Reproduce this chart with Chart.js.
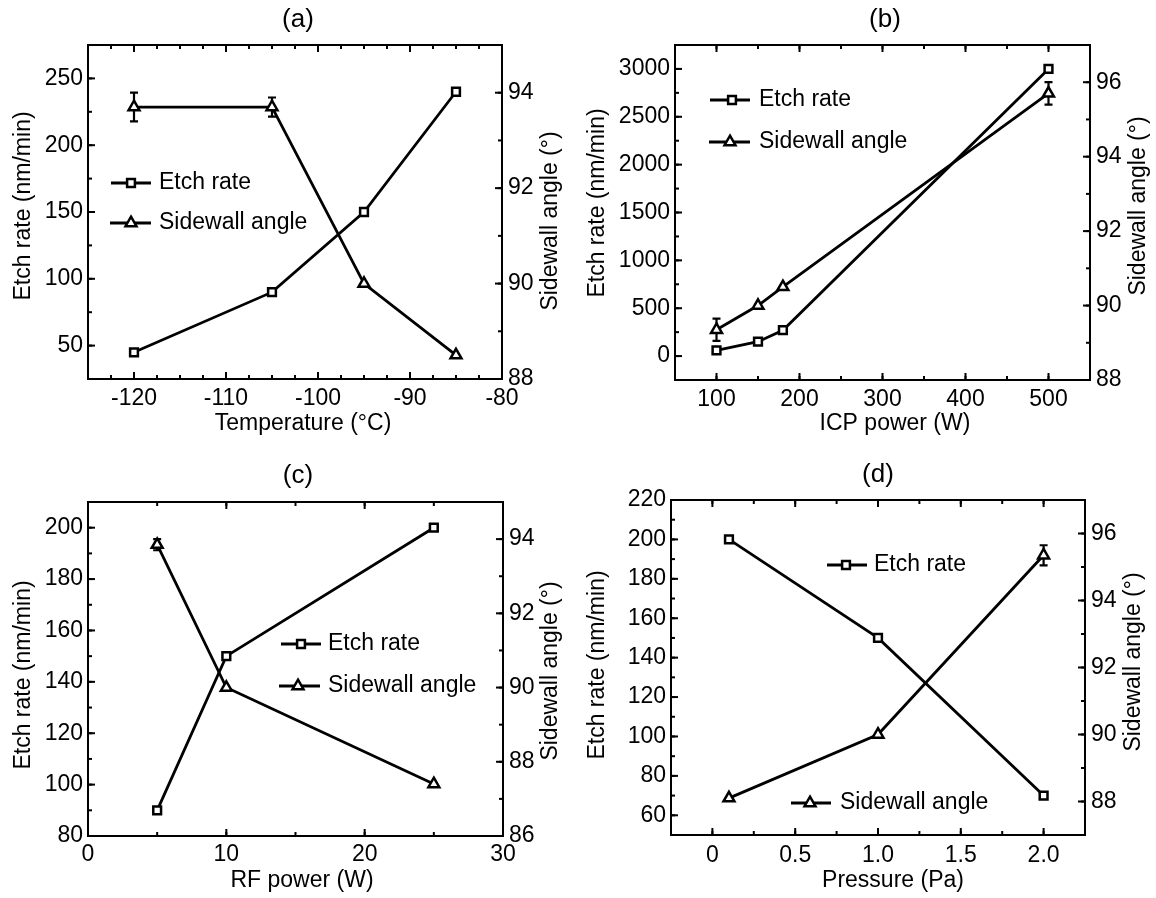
<!DOCTYPE html>
<html>
<head>
<meta charset="utf-8">
<script src="https://cdn.jsdelivr.net/npm/chart.js@4.4.0/dist/chart.umd.min.js"></script>
<style>
  html, body { margin: 0; padding: 0; background: #fff; }
  #fig { position: relative; width: 1156px; height: 898px; }
  canvas { position: absolute; }
</style>
</head>
<body>
<div id="fig">
  <canvas id="panelA" width="578" height="445" style="left:0;top:0"></canvas>
  <canvas id="panelB" width="578" height="445" style="left:578px;top:0"></canvas>
  <canvas id="panelC" width="578" height="453" style="left:0;top:445px"></canvas>
  <canvas id="panelD" width="578" height="453" style="left:578px;top:445px"></canvas>
</div>
<script>
const FONT = "'Liberation Sans', Arial, sans-serif";

const seriesLabels = ["Etch rate", "Sidewall angle"];
const etchTitle = "Etch rate (nm/min)";
const angleTitle = "Sidewall angle (°)";

// (a) temperature sweep
const tempC = [-120, -105, -95, -85];
const tempEtch = [45, 90, 150, 240];
const tempAngle = [93.7, 93.7, 90.0, 88.5];
const tempAngleErr = [0.3, 0.2, 0, 0];
const tempTicksX = [-120, -110, -100, -90, -80];
const tempTicksEtch = [50, 100, 150, 200, 250];
const tempTicksAngle = [88, 90, 92, 94];

// (b) ICP power sweep
const icpW = [100, 150, 180, 500];
const icpEtch = [60, 150, 270, 3000];
const icpAngle = [89.35, 90.0, 90.5, 95.7];
const icpAngleErr = [0.3, 0, 0, 0.3];
const icpTicksX = [100, 200, 300, 400, 500];
const icpTicksEtch = [0, 500, 1000, 1500, 2000, 2500, 3000];
const icpTicksAngle = [88, 90, 92, 94, 96];

// (c) RF power sweep
const rfW = [5, 10, 25];
const rfEtch = [90, 150, 200];
const rfAngle = [93.85, 90.0, 87.4];
const rfAngleErr = [0.15, 0, 0];
const rfTicksX = [0, 10, 20, 30];
const rfTicksEtch = [80, 100, 120, 140, 160, 180, 200];
const rfTicksAngle = [86, 88, 90, 92, 94];

// (d) pressure sweep
const pressPa = [0.1, 1.0, 2.0];
const pressEtch = [200, 150, 70];
const pressAngle = [88.1, 90.0, 95.35];
const pressAngleErr = [0, 0, 0.3];
const pressTicksX = [0, 0.5, 1.0, 1.5, 2.0];
const pressTicksEtch = [60, 80, 100, 120, 140, 160, 180, 200, 220];
const pressTicksAngle = [88, 90, 92, 94, 96];

function drawMarker(ctx, style, x, y) {
  ctx.save();
  ctx.fillStyle = "#fff";
  ctx.strokeStyle = "#000";
  ctx.lineWidth = 2.5;
  ctx.beginPath();
  if (style === "rect") {
    const s = 3.9;
    ctx.rect(x - s, y - s, 2 * s, 2 * s);
  } else {
    const r = 6.3;
    ctx.moveTo(x, y - r);
    ctx.lineTo(x + r * 0.866, y + r / 2);
    ctx.lineTo(x - r * 0.866, y + r / 2);
    ctx.closePath();
  }
  ctx.fill();
  ctx.stroke();
  ctx.restore();
}

// inward major + minor tick marks on the given edges
function drawTickMarks(ctx, scale, minorStep, edges, a) {
  const marks = scale.ticks.map(t => [t.value, 7]);
  const k0 = Math.ceil(scale.min / minorStep - 1e-9);
  const k1 = Math.floor(scale.max / minorStep + 1e-9);
  for (let k = k0; k <= k1; k++) marks.push([k * minorStep, 4]);
  marks.forEach(([v, len]) => {
    const p = scale.getPixelForValue(v);
    edges.forEach(edge => {
      ctx.beginPath();
      if (edge === "bottom") { ctx.moveTo(p, a.bottom); ctx.lineTo(p, a.bottom - len); }
      if (edge === "top") { ctx.moveTo(p, a.top); ctx.lineTo(p, a.top + len); }
      if (edge === "left") { ctx.moveTo(a.left, p); ctx.lineTo(a.left + len, p); }
      if (edge === "right") { ctx.moveTo(a.right, p); ctx.lineTo(a.right - len, p); }
      ctx.stroke();
    });
  });
}

function drawText(ctx, text, x, y, size, rotate) {
  ctx.save();
  ctx.translate(x, y);
  if (rotate) ctx.rotate(-Math.PI / 2);
  ctx.fillStyle = "#000";
  ctx.font = size + "px " + FONT;
  ctx.textAlign = "center";
  ctx.textBaseline = "middle";
  ctx.fillText(text, 0, 0);
  ctx.restore();
}

const panelPlugin = {
  id: "panel",
  beforeDatasetsDraw(chart, args, o) {
    // error bars on the sidewall angle
    const ctx = chart.ctx;
    const pts = chart.data.datasets[1].data;
    const xs = chart.scales.x, ys = chart.scales.yR;
    ctx.save();
    ctx.strokeStyle = "#000";
    ctx.lineWidth = 2.2;
    o.err.forEach((e, i) => {
      if (!e) return;
      const x = xs.getPixelForValue(pts[i].x);
      const y0 = ys.getPixelForValue(pts[i].y - e);
      const y1 = ys.getPixelForValue(pts[i].y + e);
      ctx.beginPath();
      ctx.moveTo(x, y0); ctx.lineTo(x, y1);
      ctx.moveTo(x - 4, y0); ctx.lineTo(x + 4, y0);
      ctx.moveTo(x - 4, y1); ctx.lineTo(x + 4, y1);
      ctx.stroke();
    });
    ctx.restore();
  },
  afterDraw(chart, args, o) {
    const { ctx, chartArea: a, scales } = chart;
    ctx.save();
    ctx.strokeStyle = "#000";
    ctx.lineWidth = 2;
    ctx.strokeRect(a.left, a.top, a.right - a.left, a.bottom - a.top);
    drawTickMarks(ctx, scales.x, o.minor.x, ["bottom", "top"], a);
    drawTickMarks(ctx, scales.yL, o.minor.yL, ["left"], a);
    drawTickMarks(ctx, scales.yR, o.minor.yR, ["right"], a);

    // legend placed inside the plot
    o.legend.forEach(item => {
      ctx.lineWidth = 2.8;
      ctx.beginPath();
      ctx.moveTo(item.x0, item.y);
      ctx.lineTo(item.x1, item.y);
      ctx.stroke();
      drawMarker(ctx, item.style, item.xm, item.y);
      ctx.fillStyle = "#000";
      ctx.font = "23px " + FONT;
      ctx.textAlign = "left";
      ctx.textBaseline = "middle";
      ctx.fillText(chart.data.datasets[item.ds].label, item.xt, item.y);
    });
    ctx.restore();

    // panel title and axis titles
    drawText(ctx, o.title, o.at.title[0], o.at.title[1], 26, false);
    drawText(ctx, o.xTitle, o.at.x[0], o.at.x[1], 23, false);
    drawText(ctx, etchTitle, o.at.yL[0], o.at.yL[1], 23, true);
    drawText(ctx, angleTitle, o.at.yR[0], o.at.yR[1], 23, true);
  }
};

function linAxis(position, min, max, tickVals, fitSize, tickPad, fmt) {
  return {
    type: "linear",
    position: position,
    min: min,
    max: max,
    grid: { display: false, drawTicks: false },
    border: { display: false },
    title: { display: false },
    afterBuildTicks: s => { s.ticks = tickVals.map(v => ({ value: v })); },
    afterFit: s => {
      if (s.isHorizontal()) s.height = fitSize;
      else s.width = fitSize;
    },
    ticks: {
      autoSkip: false,
      maxRotation: 0,
      padding: tickPad,
      color: "#000",
      font: { family: FONT, size: 23 },
      callback: fmt || (v => String(v))
    }
  };
}

function makePanel(id, p) {
  const canvas = document.getElementById(id);
  const W = canvas.width, H = canvas.height;
  new Chart(canvas, {
    type: "line",
    data: {
      datasets: [
        {
          label: seriesLabels[0],
          data: p.x.map((x, i) => ({ x: x, y: p.etch[i] })),
          yAxisID: "yL",
          pointStyle: "rect",
          pointRadius: 5.5
        },
        {
          label: seriesLabels[1],
          data: p.x.map((x, i) => ({ x: x, y: p.angle[i] })),
          yAxisID: "yR",
          pointStyle: "triangle",
          pointRadius: 6.3
        }
      ]
    },
    options: {
      responsive: false,
      animation: false,
      events: [],
      layout: { padding: { top: p.box.T, left: 0, right: 0, bottom: 0 } },
      elements: {
        line: { borderColor: "#000", borderWidth: 2.8, tension: 0 },
        point: { backgroundColor: "#fff", borderColor: "#000", borderWidth: 2.5 }
      },
      scales: {
        x: linAxis("bottom", p.xRange[0], p.xRange[1], p.ticksX, H - p.box.B, p.xTick, p.xFmt),
        yL: linAxis("left", p.etchRange[0], p.etchRange[1], p.ticksEtch, p.box.L, 5),
        yR: linAxis("right", p.angleRange[0], p.angleRange[1], p.ticksAngle, W - p.box.R, 6)
      },
      plugins: {
        legend: { display: false },
        tooltip: { enabled: false },
        panel: {
          title: p.title,
          xTitle: p.xTitle,
          at: p.at,
          err: p.err,
          minor: p.minor,
          legend: p.legend
        }
      }
    },
    plugins: [panelPlugin]
  });
}

makePanel("panelA", {
  title: "(a)",
  x: tempC, etch: tempEtch, angle: tempAngle, err: tempAngleErr,
  xRange: [-125, -80], etchRange: [25, 275], angleRange: [88, 95],
  ticksX: tempTicksX, ticksEtch: tempTicksEtch, ticksAngle: tempTicksAngle,
  minor: { x: 2.5, yL: 25, yR: 1 },
  xTitle: "Temperature (°C)", xTick: 6,
  box: { L: 88, R: 502, T: 45, B: 379 },
  at: { title: [298, 20], x: [303, 424], yL: [24, 206], yR: [551, 221] },
  legend: [
    { ds: 0, style: "rect", y: 183, x0: 111, x1: 151, xm: 131, xt: 159 },
    { ds: 1, style: "triangle", y: 223, x0: 110, x1: 151, xm: 131, xt: 159 }
  ]
});

makePanel("panelB", {
  title: "(b)",
  x: icpW, etch: icpEtch, angle: icpAngle, err: icpAngleErr,
  xRange: [50, 550], etchRange: [-250, 3250], angleRange: [88, 97],
  ticksX: icpTicksX, ticksEtch: icpTicksEtch, ticksAngle: icpTicksAngle,
  minor: { x: 50, yL: 250, yR: 1 },
  xTitle: "ICP power (W)", xTick: 6,
  box: { L: 97, R: 512, T: 45, B: 380 },
  at: { title: [307, 20], x: [317, 424], yL: [20, 203], yR: [561, 206] },
  legend: [
    { ds: 0, style: "rect", y: 100, x0: 132, x1: 172, xm: 154, xt: 181 },
    { ds: 1, style: "triangle", y: 142, x0: 131, x1: 172, xm: 152, xt: 181 }
  ]
});

makePanel("panelC", {
  title: "(c)",
  x: rfW, etch: rfEtch, angle: rfAngle, err: rfAngleErr,
  xRange: [0, 30], etchRange: [80, 210], angleRange: [86, 95],
  ticksX: rfTicksX, ticksEtch: rfTicksEtch, ticksAngle: rfTicksAngle,
  minor: { x: 5, yL: 10, yR: 1 },
  xTitle: "RF power (W)", xTick: 5,
  box: { L: 88, R: 503, T: 57, B: 391 },
  at: { title: [298, 31], x: [302, 436], yL: [24, 230], yR: [551, 226] },
  legend: [
    { ds: 0, style: "rect", y: 199, x0: 281, x1: 321, xm: 301, xt: 328 },
    { ds: 1, style: "triangle", y: 241, x0: 279, x1: 320, xm: 298, xt: 328 }
  ]
});

makePanel("panelD", {
  title: "(d)",
  x: pressPa, etch: pressEtch, angle: pressAngle, err: pressAngleErr,
  xRange: [-0.25, 2.25], etchRange: [50, 220], angleRange: [87, 97],
  ticksX: pressTicksX, ticksEtch: pressTicksEtch, ticksAngle: pressTicksAngle,
  xFmt: v => (v === 0 ? "0" : v.toFixed(1)),
  minor: { x: 0.25, yL: 10, yR: 1 },
  xTitle: "Pressure (Pa)", xTick: 7,
  box: { L: 93, R: 507, T: 55, B: 390 },
  at: { title: [300, 30], x: [315, 436], yL: [20, 220], yR: [556, 217] },
  legend: [
    { ds: 0, style: "rect", y: 120, x0: 249, x1: 289, xm: 268, xt: 296 },
    { ds: 1, style: "triangle", y: 358, x0: 213, x1: 253, xm: 232, xt: 262 }
  ]
});
</script>
</body>
</html>
